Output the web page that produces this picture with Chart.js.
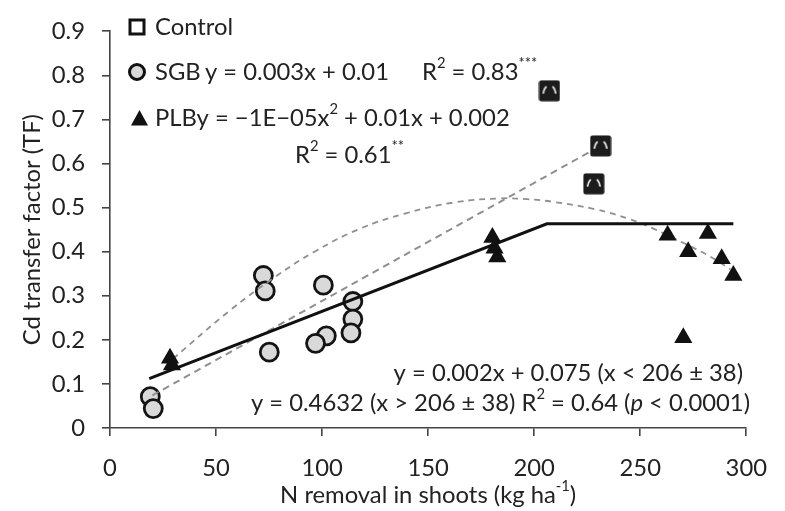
<!DOCTYPE html>
<html>
<head>
<meta charset="utf-8">
<script src="https://cdn.jsdelivr.net/npm/chart.js@4.4.1/dist/chart.umd.min.js"></script>
<style>
  html, body { margin: 0; padding: 0; background: #ffffff; }
  #wrap { width: 785px; height: 511px; position: relative; }
</style>
</head>
<body>
<div id="wrap"><canvas id="chart" width="785" height="511"></canvas></div>
<script>
// ---- Observations: N removal in shoots (kg/ha) vs Cd transfer factor ----
const controlN  = [207.2, 231.3, 228.1];
const controlTF = [0.765, 0.640, 0.554];

const sgbN  = [72.3, 73.2, 100.6, 114.5, 114.5, 113.6, 102.0, 96.9, 75.1, 19.0, 20.4];
const sgbTF = [0.346, 0.311, 0.324, 0.287, 0.247, 0.216, 0.209, 0.192, 0.172, 0.071, 0.044];

const plbN  = [28.3, 29.2, 180.3, 181.3, 182.6, 262.9, 281.9, 272.6, 288.4, 293.9, 270.3];
const plbTF = [0.158, 0.143, 0.432, 0.408, 0.388, 0.437, 0.441, 0.400, 0.384, 0.346, 0.205];

// ---- Fitted trends ----
// linear trend (SGB + control)
const linFitN  = [20, 231.3];
const linFitTF = [0.074, 0.640];
// quadratic trend (PLB)
const quadFitN  = [29.7, 56.1, 77.9, 96.4, 117.8, 139.5, 162.7, 184.5, 196.6, 209.1, 229.0, 244.8, 255.4, 270.7, 283.3, 292.5];
const quadFitTF = [0.157, 0.265, 0.343, 0.400, 0.452, 0.487, 0.512, 0.521, 0.519, 0.513, 0.496, 0.474, 0.454, 0.419, 0.388, 0.360];
// linear-plateau model across all plots
const plateauN  = [18.5, 206, 293.9];
const plateauTF = [0.112, 0.4632, 0.4632];

// ---- Axis ticks ----
const xTickValues = [0, 50, 100, 150, 200, 250, 300];
const yTickValues = [0, 0.1, 0.2, 0.3, 0.4, 0.5, 0.6, 0.7, 0.8, 0.9];

const FAMILY = 'Lato';
const INK = '#222222';
const AXIS = '#444444';

// size the type so the long equation line spans its intended width
const probe = document.createElement('canvas').getContext('2d');
probe.font = '100px ' + FAMILY;
const FS = Math.round(100 * 350 / probe.measureText('y = 0.002x + 0.075 (x < 206 \u00b1 38)').width * 10) / 10;

const toPts = (xs, ys) => xs.map((x, i) => ({ x: x, y: ys[i] }));

// control marker: dark square with a pale arch inside
function makeControlMarker() {
  const s = 22;
  const c = document.createElement('canvas');
  c.width = s; c.height = s;
  const g = c.getContext('2d');
  g.fillStyle = '#1c1c1c';
  g.beginPath();
  g.roundRect(0.5, 0.5, s - 1, s - 1, 2.5);
  g.fill();
  g.strokeStyle = '#f0f0f0';
  g.lineWidth = 1.7;
  g.lineCap = 'round';
  g.beginPath(); g.ellipse(11, 15, 6.3, 9.5, 0, Math.PI * 1.06, Math.PI * 1.31); g.stroke();
  g.beginPath(); g.ellipse(11, 15, 6.3, 9.5, 0, Math.PI * 1.69, Math.PI * 1.94); g.stroke();
  return c;
}
const controlMarker = makeControlMarker();

function fontFor(p, fs) {
  const size = p.sup ? fs * 0.62 : fs;
  return (p.it ? 'italic ' : '') + size + 'px ' + FAMILY;
}
function drawRich(ctx, parts, x, y, align, fs) {
  const widths = parts.map(p => { ctx.font = fontFor(p, fs); return ctx.measureText(p.t).width; });
  const total = widths.reduce((a, b) => a + b, 0);
  let cx = align === 'right' ? x - total : (align === 'center' ? x - total / 2 : x);
  parts.forEach((p, i) => {
    ctx.font = fontFor(p, fs);
    ctx.fillText(p.t, cx, p.sup ? y - fs * 0.36 : y);
    cx += widths[i];
  });
}

const textPlugin = {
  id: 'notes',
  afterDraw(chart) {
    const ctx = chart.ctx;
    ctx.save();
    ctx.textBaseline = 'middle';
    ctx.textAlign = 'left';

    // key symbols
    ctx.strokeStyle = '#111'; ctx.lineWidth = 3; ctx.fillStyle = '#fff';
    ctx.beginPath(); ctx.rect(130, 20, 14, 14); ctx.fill(); ctx.stroke();

    ctx.fillStyle = '#d9d9d9';
    ctx.beginPath(); ctx.arc(137, 72, 7.5, 0, Math.PI * 2); ctx.fill(); ctx.stroke();

    ctx.fillStyle = '#111';
    ctx.beginPath(); ctx.moveTo(139.5, 110); ctx.lineTo(148, 125.5); ctx.lineTo(131, 125.5); ctx.closePath(); ctx.fill();

    // key labels and regression equations
    ctx.fillStyle = INK;
    drawRich(ctx, [{ t: 'Control' }], 155, 27, 'left', FS);
    drawRich(ctx, [{ t: 'SGB' }], 155, 72, 'left', FS);
    drawRich(ctx, [{ t: 'y = 0.003x + 0.01' }], 205, 72, 'left', FS);
    drawRich(ctx, [{ t: 'R' }, { t: '2', sup: true }, { t: ' = 0.83' }, { t: '***', sup: true }], 422, 72, 'left', FS);
    drawRich(ctx, [{ t: 'PLBy = \u22121E\u221205x' }, { t: '2', sup: true }, { t: ' + 0.01x + 0.002' }], 155, 118, 'left', FS);
    drawRich(ctx, [{ t: 'R' }, { t: '2', sup: true }, { t: ' = 0.61' }, { t: '**', sup: true }], 295, 155, 'left', FS);

    // piecewise model
    drawRich(ctx, [{ t: 'y = 0.002x + 0.075 (x < 206 \u00b1 38)' }], 743, 373, 'right', FS);
    drawRich(ctx, [{ t: 'y = 0.4632 (x > 206 \u00b1 38) R' }, { t: '2', sup: true }, { t: ' = 0.64 (' },
                   { t: 'p', it: true }, { t: ' < 0.0001)' }], 750, 403, 'right', FS);

    // axis titles
    const area = chart.chartArea;
    drawRich(ctx, [{ t: 'N removal in shoots (kg ha' }, { t: '-1', sup: true }, { t: ')' }],
             (area.left + area.right) / 2, 495, 'center', FS);
    ctx.translate(32, (area.top + area.bottom) / 2);
    ctx.rotate(-Math.PI / 2);
    drawRich(ctx, [{ t: 'Cd transfer factor (TF)' }], 0, 0, 'center', FS);
    ctx.restore();
  }
};

const axisCommon = {
  border: { display: true, color: AXIS, width: 1.6 },
  grid: { display: true, drawOnChartArea: false, drawTicks: true, tickLength: 8, color: AXIS, lineWidth: 1.6 },
};

new Chart(document.getElementById('chart'), {
  type: 'scatter',
  data: {
    datasets: [
      {
        label: 'SGB',
        data: toPts(sgbN, sgbTF),
        pointStyle: 'circle', pointRadius: 9, pointHoverRadius: 9,
        backgroundColor: '#d9d9d9', borderColor: '#141414', borderWidth: 2.8,
        order: 6
      },
      {
        label: 'SGB trend',
        data: toPts(linFitN, linFitTF),
        showLine: true, pointRadius: 0, borderColor: '#8f8f8f', borderWidth: 2, borderDash: [7, 5],
        order: 5
      },
      {
        label: 'PLB trend',
        data: toPts(quadFitN, quadFitTF),
        showLine: true, pointRadius: 0, borderColor: '#8f8f8f', borderWidth: 1.8, borderDash: [6, 5],
        tension: 0.4,
        order: 4
      },
      {
        label: 'Linear-plateau',
        data: toPts(plateauN, plateauTF),
        showLine: true, pointRadius: 0, borderColor: '#111111', borderWidth: 3,
        order: 3
      },
      {
        label: 'PLB',
        data: toPts(plbN, plbTF),
        pointStyle: 'triangle', pointRadius: 10.5, pointHoverRadius: 10.5,
        backgroundColor: '#111111', borderColor: '#111111', borderWidth: 0,
        order: 2
      },
      {
        label: 'Control',
        data: toPts(controlN, controlTF),
        pointStyle: controlMarker,
        order: 1
      }
    ]
  },
  options: {
    responsive: false,
    animation: false,
    events: [],
    layout: { padding: { top: 20, right: 27, bottom: 0, left: 0 } },
    plugins: { legend: { display: false }, tooltip: { enabled: false } },
    scales: {
      x: Object.assign({}, axisCommon, {
        type: 'linear', min: 0, max: 300,
        afterBuildTicks: s => { s.ticks = xTickValues.map(v => ({ value: v })); },
        afterFit: s => { s.height = 83; },
        ticks: { color: INK, font: { family: FAMILY, size: FS }, padding: 18, maxRotation: 0,
                 callback: v => String(v) }
      }),
      y: Object.assign({}, axisCommon, {
        type: 'linear', min: 0, max: 0.9,
        afterBuildTicks: s => { s.ticks = yTickValues.map(v => ({ value: v })); },
        afterFit: s => { s.width = 110; },
        ticks: { color: INK, font: { family: FAMILY, size: FS }, padding: 17,
                 callback: v => (v === 0 ? '0' : v.toFixed(1)) }
      })
    }
  },
  plugins: [textPlugin]
});
</script>
</body>
</html>
